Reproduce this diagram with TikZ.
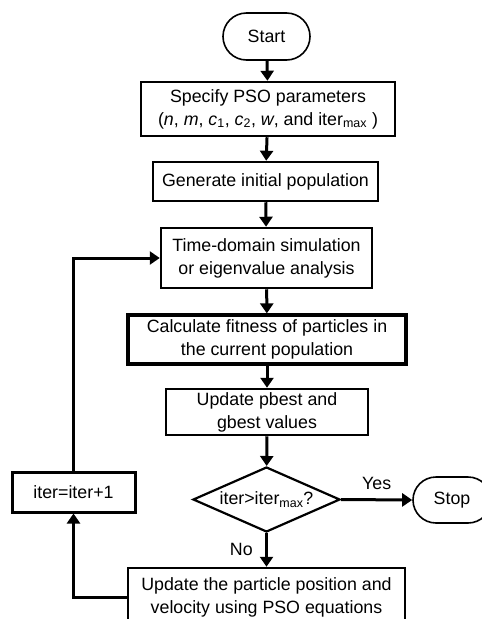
\documentclass[tikz,border=0pt]{standalone}
\usepackage{fontspec}
\setmainfont{Liberation Sans}
\usetikzlibrary{arrows.meta,shapes.misc,shapes.geometric}

\begin{document}
\begin{tikzpicture}[x=1pt, y=1pt,
    font=\fontsize{17.8}{23}\selectfont,
    box/.style={draw, line width=2.5pt, align=center, inner sep=0pt},
    term/.style={draw, rounded rectangle, line width=1.6pt, inner sep=0pt},
    decision/.style={draw, diamond, aspect=2.26, line width=2.2pt, inner sep=0pt},
    arrow/.style={line width=3pt, -{Triangle[width=13pt,length=10pt]}}]

  \useasboundingbox (0,0) rectangle (482,-619);

  % Main column
  \node[term, minimum width=87, minimum height=47] (start) at (266.5,-36.5) {Start};
  \node[box, minimum width=254, minimum height=54] (spec) at (268,-109)
    {Specify PSO parameters\\(\textit{n}, \textit{m}, \textit{c}\textsubscript{1}, \textit{c}\textsubscript{2}, \textit{w}, and iter\textsubscript{max} )};
  \node[box, minimum width=225, minimum height=39] (gen) at (265.5,-181.5) {Generate initial population};
  \node[box, minimum width=211, minimum height=60] (sim) at (266.5,-258)
    {Time-domain simulation\\or eigenvalue analysis};
  \node[box, line width=3.2pt, minimum width=278, minimum height=49] (fit) at (267,-339.5)
    {Calculate fitness of particles in\\the current population};
  \node[box, minimum width=202, minimum height=46] (best) at (267,-412)
    {Update pbest and\\gbest values};
  \node[decision, minimum width=147, minimum height=65] (dec) at (266.5,-499.5)
    {iter>iter\textsubscript{max}?};
  \node[term, minimum width=78, minimum height=46] (stop) at (452,-500) {Stop};
  \node[box, minimum width=277, minimum height=59] (upd) at (266.5,-597.5)
    {Update the particle position and\\velocity using PSO equations};

  % Loop back
  \node[box, line width=3pt, minimum width=123, minimum height=40] (iter) at (73.5,-492) {iter=iter+1};

  % Connectors
  \draw[arrow] (start) -- (spec);
  \draw[arrow] (spec) -- (gen);
  \draw[arrow] (gen) -- (sim);
  \draw[arrow] (sim) -- (fit);
  \draw[arrow] (fit) -- (best);
  \draw[arrow] (best) -- (dec);
  \draw[arrow] (dec.east) -- node[midway, above=5pt] (yes) {Yes} (stop.west);
  \draw[arrow] (dec.south) -- node[midway, left=9pt] (no) {No} (upd.north);
  \draw[arrow] (upd.west) -| (iter.south);
  \draw[arrow] (iter.north) |- (sim.west);

\end{tikzpicture}
\end{document}
